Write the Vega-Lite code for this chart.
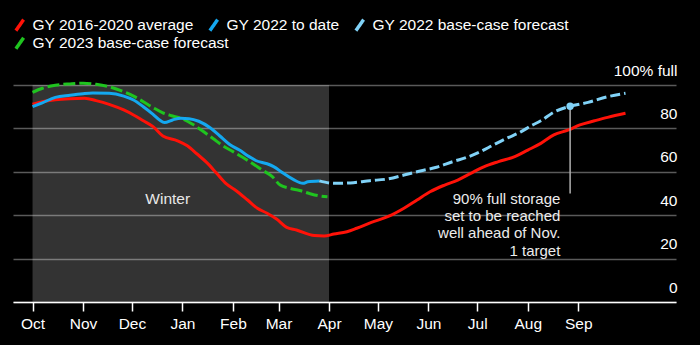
{
  "$schema": "https://vega.github.io/schema/vega-lite/v6.json",
  "width": 663,
  "height": 217,
  "autosize": {"type": "none"},
  "padding": {"left": 13, "top": 85, "right": 24, "bottom": 43},
  "background": "#000000",
  "config": {
    "view": {"stroke": null},
    "font": "Liberation Sans",
    "legend": {
      "title": null,
      "orient": "none",
      "direction": "horizontal",
      "columnPadding": 8,
      "symbolType": "M-0.7,1L0.7,-1",
      "symbolSize": 121,
      "symbolStrokeWidth": 3.5,
      "labelFontSize": 15.5,
      "labelColor": "#ffffff",
      "labelOffset": 5,
      "labelLimit": 400
    }
  },
  "data": {
    "values": [
      {"series": "GY 2016-2020 average", "date": "2021-10-01", "value": 91.1},
      {"series": "GY 2016-2020 average", "date": "2021-10-07", "value": 92.3},
      {"series": "GY 2016-2020 average", "date": "2021-10-15", "value": 93.2},
      {"series": "GY 2016-2020 average", "date": "2021-10-24", "value": 93.7},
      {"series": "GY 2016-2020 average", "date": "2021-11-02", "value": 93.9},
      {"series": "GY 2016-2020 average", "date": "2021-11-09", "value": 92.8},
      {"series": "GY 2016-2020 average", "date": "2021-11-17", "value": 91.1},
      {"series": "GY 2016-2020 average", "date": "2021-11-26", "value": 88.5},
      {"series": "GY 2016-2020 average", "date": "2021-12-02", "value": 86.2},
      {"series": "GY 2016-2020 average", "date": "2021-12-08", "value": 83.5},
      {"series": "GY 2016-2020 average", "date": "2021-12-14", "value": 80.8},
      {"series": "GY 2016-2020 average", "date": "2021-12-20", "value": 76.5},
      {"series": "GY 2016-2020 average", "date": "2021-12-29", "value": 74.3},
      {"series": "GY 2016-2020 average", "date": "2022-01-04", "value": 72.0},
      {"series": "GY 2016-2020 average", "date": "2022-01-10", "value": 68.2},
      {"series": "GY 2016-2020 average", "date": "2022-01-16", "value": 64.2},
      {"series": "GY 2016-2020 average", "date": "2022-01-22", "value": 59.3},
      {"series": "GY 2016-2020 average", "date": "2022-01-28", "value": 54.4},
      {"series": "GY 2016-2020 average", "date": "2022-02-03", "value": 51.3},
      {"series": "GY 2016-2020 average", "date": "2022-02-10", "value": 47.0},
      {"series": "GY 2016-2020 average", "date": "2022-02-16", "value": 43.2},
      {"series": "GY 2016-2020 average", "date": "2022-02-22", "value": 40.9},
      {"series": "GY 2016-2020 average", "date": "2022-02-28", "value": 38.1},
      {"series": "GY 2016-2020 average", "date": "2022-03-06", "value": 34.4},
      {"series": "GY 2016-2020 average", "date": "2022-03-12", "value": 33.2},
      {"series": "GY 2016-2020 average", "date": "2022-03-23", "value": 30.6},
      {"series": "GY 2016-2020 average", "date": "2022-03-29", "value": 30.4},
      {"series": "GY 2016-2020 average", "date": "2022-04-04", "value": 31.3},
      {"series": "GY 2016-2020 average", "date": "2022-04-12", "value": 32.4},
      {"series": "GY 2016-2020 average", "date": "2022-04-18", "value": 34.0},
      {"series": "GY 2016-2020 average", "date": "2022-04-27", "value": 36.7},
      {"series": "GY 2016-2020 average", "date": "2022-05-07", "value": 39.3},
      {"series": "GY 2016-2020 average", "date": "2022-05-17", "value": 43.2},
      {"series": "GY 2016-2020 average", "date": "2022-05-25", "value": 47.0},
      {"series": "GY 2016-2020 average", "date": "2022-06-02", "value": 50.8},
      {"series": "GY 2016-2020 average", "date": "2022-06-11", "value": 53.9},
      {"series": "GY 2016-2020 average", "date": "2022-06-19", "value": 56.2},
      {"series": "GY 2016-2020 average", "date": "2022-06-27", "value": 59.3},
      {"series": "GY 2016-2020 average", "date": "2022-07-05", "value": 62.3},
      {"series": "GY 2016-2020 average", "date": "2022-07-14", "value": 64.7},
      {"series": "GY 2016-2020 average", "date": "2022-07-24", "value": 67.0},
      {"series": "GY 2016-2020 average", "date": "2022-08-01", "value": 70.0},
      {"series": "GY 2016-2020 average", "date": "2022-08-09", "value": 73.1},
      {"series": "GY 2016-2020 average", "date": "2022-08-17", "value": 77.0},
      {"series": "GY 2016-2020 average", "date": "2022-08-26", "value": 79.3},
      {"series": "GY 2016-2020 average", "date": "2022-09-02", "value": 81.6},
      {"series": "GY 2016-2020 average", "date": "2022-09-11", "value": 83.5},
      {"series": "GY 2016-2020 average", "date": "2022-09-19", "value": 85.1},
      {"series": "GY 2016-2020 average", "date": "2022-09-30", "value": 87.0},

      {"series": "GY 2022 to date", "date": "2021-10-01", "value": 90.0},
      {"series": "GY 2022 to date", "date": "2021-10-07", "value": 91.8},
      {"series": "GY 2022 to date", "date": "2021-10-15", "value": 94.3},
      {"series": "GY 2022 to date", "date": "2021-10-24", "value": 95.3},
      {"series": "GY 2022 to date", "date": "2021-11-01", "value": 96.0},
      {"series": "GY 2022 to date", "date": "2021-11-07", "value": 96.3},
      {"series": "GY 2022 to date", "date": "2021-11-17", "value": 96.2},
      {"series": "GY 2022 to date", "date": "2021-11-26", "value": 94.9},
      {"series": "GY 2022 to date", "date": "2021-12-02", "value": 93.1},
      {"series": "GY 2022 to date", "date": "2021-12-08", "value": 90.0},
      {"series": "GY 2022 to date", "date": "2021-12-14", "value": 86.5},
      {"series": "GY 2022 to date", "date": "2021-12-18", "value": 83.9},
      {"series": "GY 2022 to date", "date": "2021-12-21", "value": 82.7},
      {"series": "GY 2022 to date", "date": "2021-12-26", "value": 83.9},
      {"series": "GY 2022 to date", "date": "2021-12-31", "value": 84.7},
      {"series": "GY 2022 to date", "date": "2022-01-05", "value": 84.5},
      {"series": "GY 2022 to date", "date": "2022-01-11", "value": 83.3},
      {"series": "GY 2022 to date", "date": "2022-01-18", "value": 80.3},
      {"series": "GY 2022 to date", "date": "2022-01-24", "value": 76.5},
      {"series": "GY 2022 to date", "date": "2022-01-30", "value": 72.6},
      {"series": "GY 2022 to date", "date": "2022-02-05", "value": 70.0},
      {"series": "GY 2022 to date", "date": "2022-02-11", "value": 67.0},
      {"series": "GY 2022 to date", "date": "2022-02-15", "value": 65.2},
      {"series": "GY 2022 to date", "date": "2022-02-22", "value": 63.7},
      {"series": "GY 2022 to date", "date": "2022-02-26", "value": 62.4},
      {"series": "GY 2022 to date", "date": "2022-03-04", "value": 59.3},
      {"series": "GY 2022 to date", "date": "2022-03-10", "value": 56.5},
      {"series": "GY 2022 to date", "date": "2022-03-16", "value": 54.7},
      {"series": "GY 2022 to date", "date": "2022-03-19", "value": 55.4},
      {"series": "GY 2022 to date", "date": "2022-03-26", "value": 55.8},

      {"series": "GY 2022 base-case forecast", "date": "2022-03-26", "value": 55.8},
      {"series": "GY 2022 base-case forecast", "date": "2022-04-04", "value": 54.7},
      {"series": "GY 2022 base-case forecast", "date": "2022-04-16", "value": 55.0},
      {"series": "GY 2022 base-case forecast", "date": "2022-04-26", "value": 55.9},
      {"series": "GY 2022 base-case forecast", "date": "2022-05-07", "value": 56.7},
      {"series": "GY 2022 base-case forecast", "date": "2022-05-17", "value": 58.5},
      {"series": "GY 2022 base-case forecast", "date": "2022-05-27", "value": 60.4},
      {"series": "GY 2022 base-case forecast", "date": "2022-06-06", "value": 62.1},
      {"series": "GY 2022 base-case forecast", "date": "2022-06-16", "value": 64.7},
      {"series": "GY 2022 base-case forecast", "date": "2022-06-24", "value": 66.5},
      {"series": "GY 2022 base-case forecast", "date": "2022-07-03", "value": 69.3},
      {"series": "GY 2022 base-case forecast", "date": "2022-07-11", "value": 72.4},
      {"series": "GY 2022 base-case forecast", "date": "2022-07-19", "value": 75.4},
      {"series": "GY 2022 base-case forecast", "date": "2022-07-28", "value": 78.5},
      {"series": "GY 2022 base-case forecast", "date": "2022-08-03", "value": 81.2},
      {"series": "GY 2022 base-case forecast", "date": "2022-08-09", "value": 83.5},
      {"series": "GY 2022 base-case forecast", "date": "2022-08-17", "value": 87.5},
      {"series": "GY 2022 base-case forecast", "date": "2022-08-27", "value": 90.2},
      {"series": "GY 2022 base-case forecast", "date": "2022-09-07", "value": 92.0},
      {"series": "GY 2022 base-case forecast", "date": "2022-09-19", "value": 94.6},
      {"series": "GY 2022 base-case forecast", "date": "2022-09-30", "value": 96.2},

      {"series": "GY 2023 base-case forecast", "date": "2021-10-01", "value": 96.6},
      {"series": "GY 2023 base-case forecast", "date": "2021-10-07", "value": 98.5},
      {"series": "GY 2023 base-case forecast", "date": "2021-10-15", "value": 99.9},
      {"series": "GY 2023 base-case forecast", "date": "2021-10-24", "value": 100.5},
      {"series": "GY 2023 base-case forecast", "date": "2021-11-01", "value": 100.8},
      {"series": "GY 2023 base-case forecast", "date": "2021-11-09", "value": 100.3},
      {"series": "GY 2023 base-case forecast", "date": "2021-11-17", "value": 99.2},
      {"series": "GY 2023 base-case forecast", "date": "2021-11-26", "value": 96.9},
      {"series": "GY 2023 base-case forecast", "date": "2021-12-02", "value": 94.9},
      {"series": "GY 2023 base-case forecast", "date": "2021-12-08", "value": 92.3},
      {"series": "GY 2023 base-case forecast", "date": "2021-12-14", "value": 89.6},
      {"series": "GY 2023 base-case forecast", "date": "2021-12-20", "value": 87.2},
      {"series": "GY 2023 base-case forecast", "date": "2021-12-26", "value": 85.7},
      {"series": "GY 2023 base-case forecast", "date": "2022-01-01", "value": 84.4},
      {"series": "GY 2023 base-case forecast", "date": "2022-01-07", "value": 82.0},
      {"series": "GY 2023 base-case forecast", "date": "2022-01-13", "value": 79.0},
      {"series": "GY 2023 base-case forecast", "date": "2022-01-20", "value": 75.2},
      {"series": "GY 2023 base-case forecast", "date": "2022-01-26", "value": 71.9},
      {"series": "GY 2023 base-case forecast", "date": "2022-02-01", "value": 69.3},
      {"series": "GY 2023 base-case forecast", "date": "2022-02-07", "value": 66.7},
      {"series": "GY 2023 base-case forecast", "date": "2022-02-13", "value": 63.8},
      {"series": "GY 2023 base-case forecast", "date": "2022-02-19", "value": 60.8},
      {"series": "GY 2023 base-case forecast", "date": "2022-02-25", "value": 57.9},
      {"series": "GY 2023 base-case forecast", "date": "2022-03-02", "value": 53.9},
      {"series": "GY 2023 base-case forecast", "date": "2022-03-08", "value": 52.4},
      {"series": "GY 2023 base-case forecast", "date": "2022-03-14", "value": 51.4},
      {"series": "GY 2023 base-case forecast", "date": "2022-03-20", "value": 50.0},
      {"series": "GY 2023 base-case forecast", "date": "2022-03-26", "value": 48.9},
      {"series": "GY 2023 base-case forecast", "date": "2022-03-31", "value": 48.5}
    ]
  },
  "encoding": {
    "x": {
      "field": "date",
      "type": "temporal",
      "scale": {
        "type": "utc",
        "domain": [
          {"year": 2021, "month": 9, "date": 19, "utc": true},
          {"year": 2022, "month": 10, "date": 31, "utc": true}
        ]
      },
      "axis": {
        "title": null,
        "values": [
          {"year": 2021, "month": 10, "date": 1, "utc": true},
          {"year": 2021, "month": 11, "date": 1, "utc": true},
          {"year": 2021, "month": 12, "date": 1, "utc": true},
          {"year": 2022, "month": 1, "date": 1, "utc": true},
          {"year": 2022, "month": 2, "date": 1, "utc": true},
          {"year": 2022, "month": 3, "date": 1, "utc": true},
          {"year": 2022, "month": 4, "date": 1, "utc": true},
          {"year": 2022, "month": 5, "date": 1, "utc": true},
          {"year": 2022, "month": 6, "date": 1, "utc": true},
          {"year": 2022, "month": 7, "date": 1, "utc": true},
          {"year": 2022, "month": 8, "date": 1, "utc": true},
          {"year": 2022, "month": 9, "date": 1, "utc": true}
        ],
        "labelExpr": "utcFormat(datum.value, '%b')",
        "grid": false,
        "domainColor": "#ffffff",
        "domainWidth": 1.5,
        "tickColor": "#ffffff",
        "tickWidth": 1.5,
        "tickSize": 9,
        "labelColor": "#ffffff",
        "labelFontSize": 15.5,
        "labelPadding": 5,
        "labelFlush": false,
        "labelOverlap": false
      }
    },
    "y": {
      "field": "value",
      "type": "quantitative",
      "scale": {"domain": [0, 100], "nice": false, "zero": false},
      "axis": {
        "orient": "right",
        "title": null,
        "values": [0, 20, 40, 60, 80, 100],
        "labelExpr": "datum.value == 100 ? '100% full' : datum.label",
        "grid": true,
        "gridColor": "#5a5a5a",
        "gridWidth": 1.5,
        "domain": false,
        "ticks": false,
        "labelAlign": "right",
        "labelBaseline": "alphabetic",
        "labelPadding": 1,
        "labelOffset": -10,
        "labelColor": "#ffffff",
        "labelFontSize": 15.5
      }
    }
  },
  "layer": [
    {
      "data": {"values": [{"date": "2021-10-01", "end": "2022-04-01", "value": 100, "value2": 0}]},
      "mark": {"type": "rect", "fill": "#ffffff", "fillOpacity": 0.2},
      "encoding": {
        "x2": {"field": "end"},
        "y2": {"field": "value2"}
      }
    },
    {
      "transform": [{"filter": "datum.series == 'GY 2023 base-case forecast'"}],
      "mark": {"type": "line", "strokeWidth": 3, "interpolate": "monotone", "strokeDash": [12, 4]},
      "encoding": {
        "color": {
          "field": "series",
          "type": "nominal",
          "scale": {"domain": ["GY 2023 base-case forecast"], "range": ["#1fc41f"]},
          "legend": {
            "legendX": -1,
            "legendY": -49.5,
            "encode": {"symbols": {"update": {"strokeDash": {"value": [1, 0]}}}}
          }
        }
      }
    },
    {
      "layer": [
        {
          "transform": [{"filter": "datum.series != 'GY 2023 base-case forecast' && datum.series != 'GY 2022 base-case forecast'"}],
          "mark": {"type": "line", "strokeWidth": 3, "interpolate": "monotone"}
        },
        {
          "transform": [{"filter": "datum.series == 'GY 2022 base-case forecast'"}],
          "mark": {"type": "line", "strokeWidth": 3, "interpolate": "monotone", "strokeDash": [10, 4]}
        }
      ],
      "encoding": {
        "color": {
          "field": "series",
          "type": "nominal",
          "scale": {
            "domain": ["GY 2016-2020 average", "GY 2022 to date", "GY 2022 base-case forecast"],
            "range": ["#ff1208", "#14a8f0", "#80d2f7"]
          },
          "legend": {
            "legendX": -1,
            "legendY": -68,
            "encode": {"symbols": {"update": {"strokeDash": {"value": [1, 0]}}}}
          }
        }
      }
    },
    {
      "data": {"values": [{"date": "2022-08-27", "value": 90, "value2": 50}]},
      "mark": {"type": "rule", "color": "#b0b0b0", "strokeWidth": 1.5},
      "encoding": {"y2": {"field": "value2"}}
    },
    {
      "data": {"values": [{"date": "2022-08-27", "value": 90.2}]},
      "mark": {"type": "point", "filled": true, "opacity": 1, "color": "#80d2f7", "size": 55},
      "encoding": {}
    },
    {
      "data": {"values": [{"date": "2021-12-23", "value": 47.5, "label": "Winter"}]},
      "mark": {"type": "text", "align": "center", "baseline": "middle", "fontSize": 15.5, "color": "#e8e8e8"},
      "encoding": {"text": {"field": "label"}}
    },
    {
      "data": {"values": [{"date": "2022-08-21", "value": 50.7}]},
      "mark": {
        "type": "text",
        "align": "right",
        "baseline": "top",
        "fontSize": 15,
        "lineHeight": 17.2,
        "color": "#ececec",
        "text": ["90% full storage", "set to be reached", "well ahead of Nov.", "1 target"]
      },
      "encoding": {}
    }
  ],
  "resolve": {"scale": {"color": "independent"}, "legend": {"color": "independent"}}
}
